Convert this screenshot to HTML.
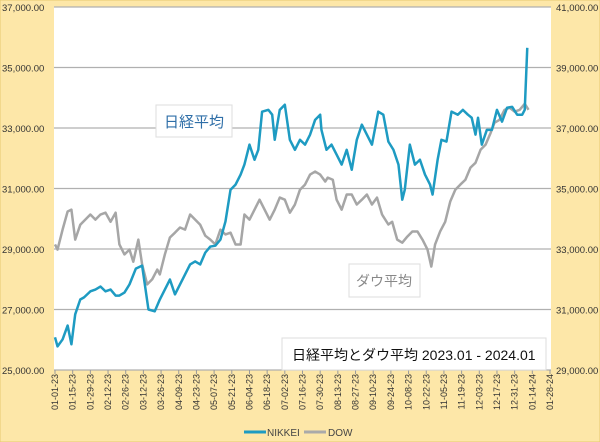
<!DOCTYPE html>
<html><head><meta charset="utf-8"><style>
body{margin:0;background:#fff}
svg{display:block;font-family:"Liberation Sans","Noto Sans CJK JP",sans-serif}
</style></head><body>
<svg id="c" width="600" height="442">
<rect x="0" y="0" width="600" height="442" fill="#fde7a8" stroke="#e8c870"/>
<rect x="54" y="7" width="497" height="363" fill="#fff"/>
<g id="grid"></g><g id="xt"></g><g id="yl"></g><g id="yr"></g><g id="series"></g>
<rect x="156" y="105" width="76" height="32" fill="#fff" stroke="#ddd"/>
<text x="194" y="127" text-anchor="middle" font-size="15" fill="#2f6fa8">日経平均</text>
<rect x="349" y="264" width="71" height="33" fill="#fff" stroke="#ddd"/>
<text x="384" y="286" text-anchor="middle" font-size="14" fill="#888">ダウ平均</text>
<rect x="282" y="338" width="264" height="32" fill="#fff" stroke="#ddd"/>
<text x="292" y="360" font-size="14" fill="#111">日経平均とダウ平均 2023.01 - 2024.01</text>
<g>
<line x1="244" y1="432" x2="266" y2="432" stroke="#1e9bc2" stroke-width="3"/>
<text x="267" y="436" font-size="10" fill="#444">NIKKEI</text>
<line x1="304" y1="432" x2="326" y2="432" stroke="#aaa" stroke-width="3"/>
<text x="328" y="436" font-size="10" fill="#444">DOW</text>
</g>
</svg>
<script>
const nikkeiDays=[0,2,6,10,13,16,20,23,28,32,36,40,44,48,51,55,59,64,69,74,79,83,87,91,95,99,103,107,111,115,119,123,127,131,135,139,143,147,150,154,158,161,164,169,172,174,178,182,186,190,194,198,202,206,210,211,215,219,223,227,231,235,239,243,247,251,256,260,264,268,272,275,277,281,285,289,293,297,299,303,306,310,314,319,323,327,330,333,335,338,342,346,350,354,358,362,366,370,372,374];
const nikkeiVals=[26080,25780,26010,26470,25850,26840,27330,27400,27600,27660,27760,27600,27660,27460,27460,27560,27830,28350,28450,27000,26940,27330,27660,27990,27500,27830,28160,28490,28590,28490,28880,29080,29110,29310,29910,30960,31130,31460,31790,32450,31950,32280,33540,33600,33440,32610,33600,33770,32610,32280,32610,32450,32780,33270,33440,32940,32280,32450,32120,31790,32280,31620,32610,33110,32780,32450,33540,33440,32550,32280,31790,30630,30960,32450,31790,31950,31460,31130,30800,31950,32610,32550,33540,33440,33600,33440,33340,32780,33340,32450,32940,32940,33600,33210,33670,33700,33440,33440,33600,35650];
const dowDays=[0,2,6,10,13,16,20,24,28,32,36,40,44,48,51,55,59,62,66,69,73,77,81,83,87,91,95,99,103,107,111,115,119,123,127,131,135,139,143,147,150,154,158,162,166,170,174,178,182,186,190,194,198,202,206,210,214,216,220,223,227,231,235,239,243,247,251,255,259,264,267,271,275,279,283,287,291,295,298,301,305,309,313,317,321,325,329,333,337,341,345,348,352,356,360,364,368,372,375];
const dowVals=[33150,32980,33640,34240,34300,33310,33800,33970,34140,33970,34140,34200,33900,34200,33150,32820,32980,32580,33310,32490,31830,32000,32320,32160,32820,33380,33540,33710,33640,34140,33970,33800,33440,33310,33150,33640,33480,33540,33150,33150,34140,33970,34300,34630,34300,33970,34300,34700,34630,34200,34470,34960,35130,35460,35560,35460,35230,35360,35290,34630,34300,34800,34800,34470,34630,34800,34470,34700,34140,33810,33900,33310,33210,33410,33580,33580,33310,32980,32420,33150,33580,33900,34570,34960,35130,35290,35690,35850,36280,36450,36840,37170,37270,37600,37670,37540,37600,37800,37600];
const leftTicks=[25000,27000,29000,31000,33000,35000,37000];
const rightTicks=[29000,31000,33000,35000,37000,39000,41000];
const xTickLabels=["01-01-23","01-15-23","01-29-23","02-12-23","02-26-23","03-12-23","03-26-23","04-09-23","04-23-23","05-07-23","05-21-23","06-04-23","06-18-23","07-02-23","07-16-23","07-30-23","08-13-23","08-27-23","09-10-23","09-24-23","10-08-23","10-22-23","11-05-23","11-19-23","12-03-23","12-17-23","12-31-23","01-14-24","01-28-24"];
const NS="http://www.w3.org/2000/svg";
const X0=55,X1=550,T=7,B=370;
const x=d=>X0+d/392*(X1-X0);
const yL=v=>B-(v-25000)/12000*(B-T);
const yR=v=>B-(v-29000)/12000*(B-T);
function mk(t,a,p){const e=document.createElementNS(NS,t);for(const k in a)e.setAttribute(k,a[k]);p.appendChild(e);return e;}
const g=document.getElementById('grid'),xt=document.getElementById('xt'),yl=document.getElementById('yl'),yr=document.getElementById('yr'),se=document.getElementById('series');
leftTicks.forEach((v,i)=>{
 const l=mk('line',{x1:54,x2:551,y1:yL(v),y2:yL(v),stroke:'#b0b0b0','stroke-width':1.3},g);
 
 
 const t=mk('text',{x:2,y:yL(v)+4,'font-size':9.5,fill:'#333'},yl);t.textContent=v.toLocaleString('en-US')+'.00';
 
 
});
rightTicks.forEach(v=>{
 const t=mk('text',{x:556,y:yR(v)+4,'font-size':9.5,fill:'#333'},yr);t.textContent=v.toLocaleString('en-US')+'.00';
 
 
});
xTickLabels.forEach((s,i)=>{
 const px=x(i*14);
 const tk=mk('line',{x1:px,x2:px,y1:370,y2:374,stroke:'#999'},xt);
 
 
 const t=mk('text',{x:0,y:0,'font-size':9,fill:'#333','text-anchor':'end',transform:`translate(${px+3},374) rotate(-90)`},xt);t.textContent=s;
 
 
});
function line(days,vals,fy,col,w,name){
 const p=mk('polyline',{points:days.map((d,i)=>x(d)+','+fy(vals[i])).join(' '),fill:'none',stroke:col,'stroke-width':w,'stroke-linejoin':'round'},se);
 
 
}
line(dowDays,dowVals,yR,'#a6a6a6',2.5,'dow-line');
line(nikkeiDays,nikkeiVals,yL,'#1e9bc2',2.5,'nikkei-line');
</script>
</body></html>
